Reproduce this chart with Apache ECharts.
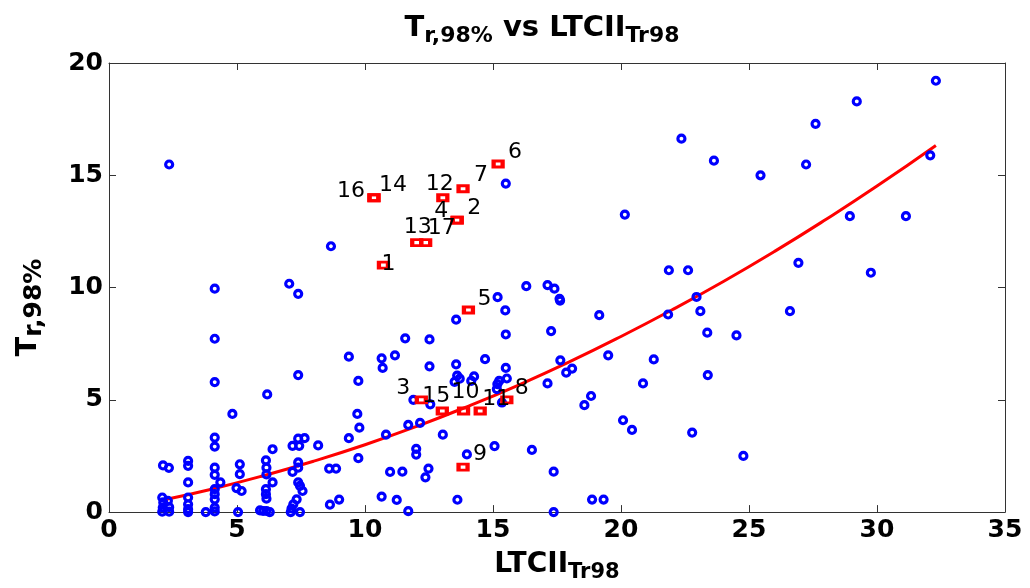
<!DOCTYPE html>
<html>
<head>
<meta charset="utf-8">
<script src="https://cdn.jsdelivr.net/npm/echarts@6/dist/echarts.min.js"></script>
<style>
  html, body { margin: 0; padding: 0; background: #fff; }
  #chart { width: 1030px; height: 588px; }
</style>
</head>
<body>
<div id="chart"></div>
<script>
// Observations: LTCII (x) against T r,98% (y)
const blueX = [
  2.35, 2.11, 2.34, 2.08, 2.12, 2.10, 2.35, 2.08, 2.35, 2.30,
  3.09, 3.09, 3.09, 3.09, 3.09, 3.09, 3.09, 3.78,
  4.13, 4.13, 4.13, 4.13, 4.13, 4.13, 4.13, 4.13, 4.13, 4.13, 4.13, 4.13,
  4.35, 4.82, 5.11, 5.11, 4.98, 5.18, 5.04, 5.90,
  6.18, 6.13, 6.15, 6.15, 6.13, 6.13, 6.15, 6.02, 6.15, 6.28, 6.39, 6.39,
  7.04, 7.39, 7.39, 7.39, 7.64, 7.17, 7.43, 7.39, 7.39, 7.17, 7.39, 7.46, 7.56, 7.33, 7.20, 7.13, 7.46, 7.10,
  8.17, 8.60, 8.87, 8.63, 8.99, 8.67,
  9.37, 9.37, 9.74, 9.70, 9.78, 9.74,
  10.65, 10.69, 10.65, 10.82, 10.98, 11.17, 11.24, 11.46, 11.57, 11.69, 11.69,
  11.89, 12.00, 12.00, 12.15, 12.36, 12.48, 12.52, 12.52, 12.55, 13.04,
  13.56, 13.56, 13.60, 13.70, 13.50, 13.61, 13.98, 14.26, 14.15, 14.69,
  15.06, 15.18, 15.17, 15.15, 15.24, 15.50, 15.48, 15.50, 15.50, 15.54, 15.35,
  16.30, 16.52, 17.13, 17.40, 17.60, 17.62, 17.27, 17.63, 18.09, 17.86, 17.13, 17.37, 17.37,
  18.83, 18.57, 18.87, 19.32, 19.15, 19.50,
  20.15, 20.08, 20.43, 20.86, 21.28, 21.84, 21.87, 22.62,
  22.36, 22.78, 22.95, 23.10, 23.37, 23.39, 23.63,
  24.51, 24.78, 25.45, 26.60, 26.93, 27.23, 27.60,
  28.94, 29.21, 29.76, 31.13, 32.08, 32.30
];
const blueY = [
  15.48, 2.08, 1.97, 0.65, 0.43, 0.20, 0.22, 0.02, 0.02, 0.50,
  2.28, 2.06, 1.32, 0.65, 0.35, 0.13, 0.00, 0.00,
  9.95, 7.72, 5.79, 3.32, 2.92, 1.98, 1.66, 1.02, 0.80, 0.57, 0.20, 0.03,
  1.32, 4.37, 2.13, 1.69, 1.07, 0.94, 0.00, 0.08,
  5.24, 2.30, 1.98, 1.68, 1.02, 0.80, 0.60, 0.05, 0.05, 0.00, 2.80, 1.32,
  10.17, 9.72, 6.10, 3.27, 3.29, 2.95, 2.95, 2.21, 1.98, 1.79, 1.32, 1.17, 0.94, 0.57, 0.35, 0.16, 0.00, 0.00,
  2.97, 1.94, 1.94, 0.33, 0.56, 11.84,
  6.92, 3.29, 5.84, 4.37, 3.76, 2.40,
  6.85, 6.42, 0.69, 3.45, 1.79, 6.98, 0.54, 1.80, 7.74, 3.88, 0.04,
  5.00, 2.82, 2.56, 3.97, 1.55, 1.94, 7.69, 6.49, 4.80, 3.45,
  8.57, 6.58, 6.08, 5.94, 5.80, 0.55, 2.57, 6.04, 5.84, 6.81,
  2.94, 9.57, 5.70, 5.48, 5.84, 14.63, 8.98, 7.91, 6.42, 5.95, 4.88,
  10.06, 2.77, 10.11, 9.95, 9.50, 9.42, 8.06, 6.76, 6.39, 6.21, 5.73, 1.80, 0.00,
  5.17, 4.76, 0.56, 0.56, 8.77, 6.98,
  13.25, 4.09, 3.66, 5.73, 6.80, 8.80, 10.77, 10.77,
  16.63, 3.54, 9.58, 8.95, 7.99, 6.10, 15.65,
  7.87, 2.50, 15.00, 8.95, 11.10, 15.48, 17.29,
  13.18, 18.29, 10.66, 13.18, 15.89, 19.21
];

// Numbered cases, id order 1..17
const caseIds = ['1','2','3','4','5','6','7','8','9','10','11','12','13','14','15','16','17'];
const caseX = [10.72, 13.60, 12.20, 13.60, 14.04, 15.20, 13.83, 15.54, 13.83, 13.85, 14.50, 13.04, 12.02, 10.35, 13.02, 10.35, 12.37];
const caseY = [11.00, 13.00, 5.00, 13.00, 9.00, 15.50, 14.40, 5.00, 2.00, 4.50, 4.50, 14.00, 12.00, 14.00, 4.50, 14.00, 12.00];

// Fitted trend, sampled along the curve
const fitX = [2.2, 4, 6, 8, 10, 12, 14, 16, 18, 20, 22, 24, 26, 28, 30, 32.3];
const fitY = [0.56, 1.02, 1.61, 2.27, 3.00, 3.81, 4.70, 5.66, 6.70, 7.82, 9.01, 10.27, 11.61, 13.03, 14.52, 16.33];

// Axis ranges and tick step
const xRange = [0, 35];
const yRange = [0, 20];
const tickStep = 5;

// Pixel nudges for the case-number labels (same order as caseIds)
const labelNudge = [
  [5, -1], [17, -12], [-18, -12], [-16, -9], [16, -11], [17, -12], [18, -13], [15, -12], [17, -13],
  [2, -19], [16, -12], [-3, -13], [1, -15], [19, -12], [-6, -15], [-23, -6], [16, -14]
];

const FONT = 'DejaVu Sans';
const AXIS_COLOR = '#333';

const blueData = blueX.map((x, i) => [x, blueY[i]]);
const fitData = fitX.map((x, i) => [x, fitY[i]]);
const caseData = caseX.map((x, i) => ({
  value: [x, caseY[i]],
  label: { offset: labelNudge[i] }
}));

// Rich-text styles for a main run followed by a lowered subscript run
function richSub(mainSize, subSize, gap, weight) {
  return {
    m: { fontFamily: FONT, fontWeight: weight, fontSize: mainSize, color: '#000', lineHeight: mainSize + 4, verticalAlign: 'top' },
    s: { fontFamily: FONT, fontWeight: weight, fontSize: subSize, color: '#000', lineHeight: subSize + 4, verticalAlign: 'bottom', padding: [gap, 0, 0, 0] }
  };
}

const baseAxis = {
  type: 'value',
  interval: tickStep,
  axisLine: { show: true, onZero: false, lineStyle: { color: AXIS_COLOR, width: 1 } },
  axisTick: { show: true, inside: true, length: 7, lineStyle: { color: AXIS_COLOR, width: 1 } },
  splitLine: { show: false }
};

const tickFont = { fontFamily: FONT, fontWeight: 'bold', fontSize: 25, color: '#000' };

const chart = echarts.init(document.getElementById('chart'), null, { renderer: 'canvas' });
chart.setOption({
  animation: false,
  backgroundColor: '#fff',
  grid: { left: 109, right: 25, top: 63, bottom: 75, containLabel: false },
  graphic: [{
    type: 'text',
    x: 542,
    y: 14,
    style: {
      text: '{m|T}{s|r,98%}{m| vs LTCII}{s|Tr98}',
      rich: richSub(29, 22, 13, 'bold'),
      align: 'center',
      verticalAlign: 'top'
    }
  }],
  xAxis: [
    Object.assign({}, baseAxis, {
      min: xRange[0], max: xRange[1], position: 'bottom',
      axisLabel: Object.assign({ margin: 6 }, tickFont),
      name: '{m|LTCII}{s|Tr98}',
      nameLocation: 'middle',
      nameGap: 35,
      nameTextStyle: { rich: richSub(28, 21, 14, 'bold') }
    }),
    Object.assign({}, baseAxis, {
      min: xRange[0], max: xRange[1], position: 'top',
      axisLabel: { show: false }
    })
  ],
  yAxis: [
    Object.assign({}, baseAxis, {
      min: yRange[0], max: yRange[1], position: 'left',
      axisLabel: Object.assign({ margin: 6 }, tickFont),
      name: '{m|T}{s|r,98%}',
      nameLocation: 'middle',
      nameRotate: 90,
      nameGap: 62,
      nameTextStyle: { rich: richSub(29, 25, 14, 'bold'), padding: [0, 40, 0, 0] }
    }),
    Object.assign({}, baseAxis, {
      min: yRange[0], max: yRange[1], position: 'right',
      axisLabel: { show: false }
    })
  ],
  series: [
    {
      type: 'line',
      data: fitData,
      smooth: true,
      symbol: 'none',
      lineStyle: { color: '#ff0000', width: 3 },
      z: 2
    },
    {
      type: 'scatter',
      data: blueData,
      symbol: 'circle',
      symbolSize: 7,
      itemStyle: { color: 'rgba(0,0,0,0)', borderColor: '#0000ff', borderWidth: 3.2, opacity: 1 },
      clip: false,
      z: 3
    },
    {
      type: 'scatter',
      data: caseData,
      symbol: 'rect',
      symbolSize: [9, 6],
      itemStyle: { color: 'rgba(0,0,0,0)', borderColor: '#ff0000', borderWidth: 3.5, opacity: 1 },
      label: {
        show: true,
        position: 'inside',
        formatter: (p) => caseIds[p.dataIndex],
        fontFamily: FONT,
        fontSize: 22,
        color: '#000',
        align: 'center',
        verticalAlign: 'middle'
      },
      clip: false,
      z: 4
    }
  ]
});
</script>
</body>
</html>
